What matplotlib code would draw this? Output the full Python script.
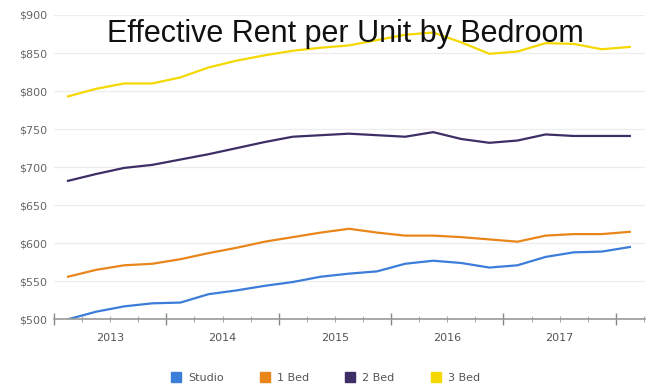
import numpy as np
import matplotlib.pyplot as plt
from matplotlib.ticker import FixedLocator, FuncFormatter

# quarterly points, Feb 2013 -> Feb 2018
dates = 2013.125 + 0.25 * np.arange(21)

studio = [500, 510, 517, 521, 522, 533, 538, 544, 549, 556, 560,
          563, 573, 577, 574, 568, 571, 582, 588, 589, 595]
bed1 = [556, 565, 571, 573, 579, 587, 594, 602, 608, 614, 619,
        614, 610, 610, 608, 605, 602, 610, 612, 612, 615]
bed2 = [682, 691, 699, 703, 710, 717, 725, 733, 740, 742, 744,
        742, 740, 746, 737, 732, 735, 743, 741, 741, 741]
bed3 = [793, 803, 810, 810, 818, 831, 840, 847, 853, 857, 860,
        867, 874, 877, 864, 849, 852, 863, 862, 855, 858]

names = ["Studio", "1 Bed", "2 Bed", "3 Bed"]
colors = ["#3b7dd8", "#e8861a", "#3d2f66", "#f5d800"]
years = [2013, 2014, 2015, 2016, 2017]

fig = plt.figure(figsize=(6.54, 3.88), dpi=100)
ax = fig.add_axes([54/654, 1 - 319.3/388, 591/654, 304.3/388])

for vals, name, c in zip([studio, bed1, bed2, bed3], names, colors):
    ax.plot(dates, vals, color=c, lw=1.6, label=name, solid_joinstyle="round")

ax.set_ylim(500, 900)
ax.set_xlim(2013.0, 2018.26)
ax.set_yticks(np.arange(500, 901, 50))
ax.yaxis.set_major_formatter(FuncFormatter(lambda v, p: "$%d" % v))
ax.tick_params(axis="y", length=0, labelsize=8, labelcolor="#666666", pad=5)
ax.grid(axis="y", color="#ededed", lw=0.9)
ax.set_axisbelow(True)

ax.xaxis.set_major_locator(FixedLocator(np.arange(2013, 2019)))
ax.xaxis.set_minor_locator(FixedLocator(np.arange(2013, 2018.3, 0.25)))
ax.set_xticklabels([])
ax.tick_params(axis="x", which="major", direction="inout", length=9,
               color="#888888", width=1)
ax.tick_params(axis="x", which="minor", direction="inout", length=4,
               color="#aaaaaa", width=0.8)
for y in years:
    ax.text(y + 0.5, -0.045, str(y), transform=ax.get_xaxis_transform(),
            ha="center", va="top", fontsize=8, color="#555555")

for s in ["left", "right", "top"]:
    ax.spines[s].set_visible(False)
ax.spines["bottom"].set_color("#999999")
ax.spines["bottom"].set_linewidth(1.2)

fig.text(345/654, 1 - 42/388, "Effective Rent per Unit by Bedroom",
         ha="center", va="baseline", fontsize=22, color="#111111",
         family="Liberation Sans")

handles = [plt.Line2D([], [], marker="s", ls="", color=c, markersize=7)
           for c in colors]
fig.legend(handles, names, loc="center", bbox_to_anchor=(325/654, 1 - 378/388),
           ncol=4, frameon=False, fontsize=8, labelcolor="#555555",
           handletextpad=0.6, columnspacing=3.2, handlelength=1)

fig.savefig("out.png", dpi=100)
